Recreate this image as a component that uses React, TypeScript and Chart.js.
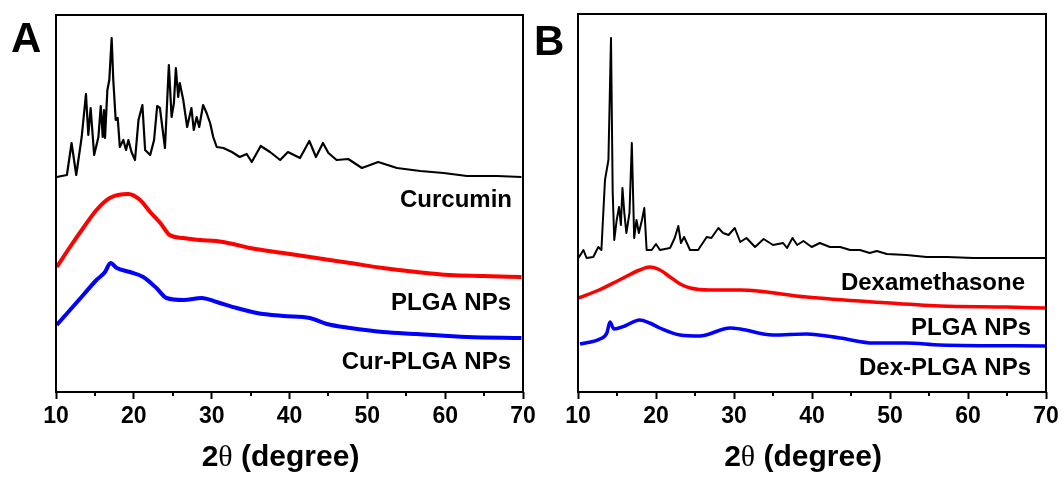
import React, { useEffect, useRef } from 'react';
import { Chart, registerables } from 'chart.js';

Chart.register(...registerables);

// ---------- Data (2θ in degrees, intensity in arbitrary units, stacked offsets) ----------
const curcuminTheta = [10.1, 11.4, 12.0, 12.6, 13.3, 13.85, 14.15, 14.45, 14.9, 15.45, 15.75, 16.0, 16.17, 16.3, 16.6, 16.85, 17.15, 17.36, 17.67, 17.93, 18.2, 18.65, 19.0, 19.3, 19.7, 20.15, 20.6, 21.1, 21.45, 22.1, 22.6, 23.0, 23.35, 24.0, 24.5, 24.85, 25.15, 25.4, 25.7, 25.9, 26.35, 26.85, 27.4, 27.7, 28.07, 28.4, 28.9, 29.35, 29.8, 30.2, 30.65, 31.5, 32.6, 33.6, 34.5, 35.15, 36.3, 37.5, 38.8, 39.8, 41.35, 42.55, 43.4, 44.3, 45.0, 46.05, 47.55, 49.3, 51.4, 53.8, 56.8, 59.8, 62.8, 66.7, 69.8];
const curcuminIntensity = [215, 217, 249, 217, 255, 298, 257, 284, 237, 255, 286, 255, 282, 254, 302, 312, 354, 312, 272, 274, 245, 252, 242, 252, 240, 232, 272, 287, 242, 237, 252, 286, 284, 244, 327, 275, 289, 324, 295, 309, 292, 265, 284, 262, 275, 265, 287, 279, 269, 255, 245, 244, 240, 235, 238, 230, 246, 240, 232, 240, 234, 251, 235, 249, 239, 232, 233, 224, 230, 224, 221, 219, 216, 216, 215];

const plgaATheta = [10.1, 11.8, 13.5, 15.2, 16.9, 19.3, 20.8, 22.1, 23.4, 24.6, 26.4, 28.5, 30.6, 32.75, 34.9, 39.2, 43.5, 47.8, 52.0, 56.35, 60.6, 64.9, 69.8];
const plgaAIntensity = [125, 145, 164, 182, 194, 198, 192, 180, 169, 157, 154, 152, 151, 148, 144, 139, 134, 129, 124, 120, 117, 116, 115];

const curPlgaTheta = [10.1, 11.8, 13.5, 15.2, 16.3, 17.0, 17.8, 19.5, 21.2, 22.9, 24.2, 26.4, 28.7, 30.65, 33.2, 35.8, 39.2, 42.6, 44.8, 47.8, 52.0, 56.35, 62.8, 69.8];
const curPlgaIntensity = [67, 82, 97, 112, 120, 129, 124, 120, 115, 104, 94, 92, 94, 90, 84, 79, 76, 74, 68, 64, 60, 58, 55, 54];

const dexTheta = [10.05, 10.7, 11.1, 11.96, 12.6, 13.0, 13.46, 13.9, 14.23, 14.45, 14.65, 14.96, 15.26, 15.5, 15.7, 15.94, 16.2, 16.6, 16.9, 17.2, 17.5, 17.8, 18.2, 18.5, 18.8, 19.45, 20.0, 20.5, 21.8, 22.4, 22.86, 23.2, 23.6, 24.36, 25.4, 26.5, 27.1, 28.0, 28.6, 29.3, 30.1, 30.8, 31.6, 32.7, 33.8, 35.0, 36.3, 36.8, 37.5, 38.1, 38.9, 39.96, 41.0, 42.3, 43.6, 44.9, 46.15, 47.4, 48.3, 49.6, 52.1, 54.7, 57.3, 60.7, 65.0, 69.9];
const dexIntensity = [134, 142, 134, 135, 145, 142, 212, 232, 354, 199, 152, 172, 185, 167, 204, 179, 159, 179, 249, 154, 172, 159, 172, 184, 142, 142, 148, 142, 144, 154, 166, 149, 155, 142, 142, 155, 154, 164, 159, 157, 164, 150, 154, 145, 153, 147, 149, 144, 154, 147, 151, 145, 149, 145, 145, 142, 142, 139, 141, 138, 137, 135, 135, 134, 134, 134];

const plgaBTheta = [10.1, 12.7, 15.3, 17.9, 19.2, 20.5, 21.8, 23.1, 24.4, 26.9, 30.8, 39.3, 47.9, 56.4, 65.0, 69.9];
const plgaBIntensity = [94, 102, 112, 122, 125, 122, 115, 108, 104, 102, 102, 95, 90, 86, 85, 84];

const dexPlgaTheta = [10.26, 12.8, 13.7, 14.1, 14.6, 16.0, 17.9, 19.2, 20.5, 23.1, 25.6, 29.5, 30.8, 35.0, 39.3, 43.6, 47.9, 52.1, 56.4, 69.9];
const dexPlgaIntensity = [48, 53, 59, 70, 63, 66, 72, 69, 64, 57, 56, 64, 63, 57, 58, 54, 49, 49, 47, 46];

const xMajorTicks = [10, 20, 30, 40, 50, 60, 70];
const xMinorTicks = [15, 25, 35, 45, 55, 65];
const panelALabels = ['Curcumin', 'PLGA NPs', 'Cur-PLGA NPs'];
const panelBLabels = ['Dexamethasone', 'PLGA NPs', 'Dex-PLGA NPs'];
const axisTitleParts = ['2', 'θ', ' (degree)'];

// ---------- Styling / layout ----------
const SANS = '"Liberation Sans", Arial, Helvetica, sans-serif';
const SERIF = '"Liberation Serif", "Times New Roman", serif';
const CANVAS_H = 481;
const PLOT_BOTTOM = 392;

type LabelPos = { right: number; baseline: number };

interface PanelProps {
  canvasLeft: number;
  canvasWidth: number;
  plotLeft: number;
  plotRight: number;
  plotTop: number;
  letter: string;
  letterX: number;
  letterBaseline: number;
  series: { theta: number[]; intensity: number[]; color: string; width: number; smooth: boolean }[];
  labels: string[];
  labelPos: LabelPos[];
}

function toPoints(theta: number[], intensity: number[]) {
  return theta.map((x, i) => ({ x, y: intensity[i] }));
}

function Panel(p: PanelProps) {
  const ref = useRef<HTMLCanvasElement | null>(null);

  useEffect(() => {
    const canvas = ref.current;
    if (!canvas) return;
    const L = p.canvasLeft;

    const decor = {
      id: 'decor',
      afterDatasetsDraw(chart: any) {
        const { ctx, chartArea: a, scales } = chart;
        const xs = scales.x;
        ctx.save();
        ctx.strokeStyle = '#000';
        ctx.lineWidth = 2;
        ctx.strokeRect(a.left, a.top, a.right - a.left, a.bottom - a.top);
        // minor ticks
        for (const v of xMinorTicks) {
          const px = Math.round(xs.getPixelForValue(v));
          ctx.beginPath();
          ctx.moveTo(px, a.bottom);
          ctx.lineTo(px, a.bottom + 4);
          ctx.stroke();
        }
        // series labels
        ctx.fillStyle = '#000';
        ctx.font = `bold 24px ${SANS}`;
        ctx.textAlign = 'right';
        ctx.textBaseline = 'alphabetic';
        p.labels.forEach((t, i) => {
          ctx.fillText(t, p.labelPos[i].right - L, p.labelPos[i].baseline);
        });
        // panel letter
        ctx.font = `bold 42px ${SANS}`;
        ctx.textAlign = 'left';
        ctx.fillText(p.letter, p.letterX - L, p.letterBaseline);
        // axis title with mixed fonts
        const fonts = [`bold 30px ${SANS}`, `30px ${SERIF}`, `bold 30px ${SANS}`];
        const widths = axisTitleParts.map((s, i) => {
          ctx.font = fonts[i];
          return ctx.measureText(s).width;
        });
        const total = widths.reduce((s, w) => s + w, 0);
        let x = (a.left + a.right) / 2 - 9 - total / 2;
        axisTitleParts.forEach((s, i) => {
          ctx.font = fonts[i];
          ctx.fillText(s, x, 466);
          x += widths[i];
        });
        ctx.restore();
      },
    };

    const chart = new Chart(canvas, {
      type: 'line',
      data: {
        datasets: p.series.map((s) => ({
          data: toPoints(s.theta, s.intensity),
          borderColor: s.color,
          borderWidth: s.width,
          pointRadius: 0,
          tension: s.smooth ? 0.4 : 0,
          cubicInterpolationMode: s.smooth ? 'monotone' : 'default',
          borderJoinStyle: 'round',
          fill: false,
        })),
      },
      options: {
        animation: false,
        responsive: false,
        maintainAspectRatio: false,
        devicePixelRatio: 1,
        layout: {
          padding: {
            left: p.plotLeft - L,
            right: L + p.canvasWidth - p.plotRight,
            top: p.plotTop,
            bottom: 0,
          },
        },
        plugins: {
          legend: { display: false },
          tooltip: { enabled: false },
          title: { display: false },
        },
        scales: {
          x: {
            type: 'linear',
            min: 10,
            max: 70,
            afterFit: (scale: any) => {
              scale.height = CANVAS_H - PLOT_BOTTOM;
            },
            afterBuildTicks: (scale: any) => {
              scale.ticks = xMajorTicks.map((v) => ({ value: v }));
            },
            ticks: {
              color: '#000',
              font: { family: SANS, size: 23, weight: 'bold' },
              padding: 4,
              maxRotation: 0,
              autoSkip: false,
              callback: (v: any) => String(v),
            },
            grid: {
              display: true,
              drawOnChartArea: false,
              drawTicks: true,
              tickLength: 7,
              tickWidth: 2,
              tickColor: '#000',
            },
            border: { display: false },
          },
          y: {
            type: 'linear',
            display: false,
            min: 0,
            max: PLOT_BOTTOM - p.plotTop,
          },
        },
      } as any,
      plugins: [decor],
    });
    return () => chart.destroy();
  }, []);

  return (
    <canvas
      ref={ref}
      width={p.canvasWidth}
      height={CANVAS_H}
      style={{ position: 'absolute', left: p.canvasLeft, top: 0, width: p.canvasWidth, height: CANVAS_H }}
    />
  );
}

export default function App() {
  return (
    <div style={{ position: 'absolute', left: 0, top: 0, width: 1064, height: 481, background: '#fff', overflow: 'hidden' }}>
      <Panel
        canvasLeft={0}
        canvasWidth={545}
        plotLeft={56}
        plotRight={523}
        plotTop={15}
        letter="A"
        letterX={11}
        letterBaseline={52}
        series={[
          { theta: curcuminTheta, intensity: curcuminIntensity, color: '#000000', width: 2.2, smooth: false },
          { theta: plgaATheta, intensity: plgaAIntensity, color: '#ff0000', width: 4, smooth: true },
          { theta: curPlgaTheta, intensity: curPlgaIntensity, color: '#0000ff', width: 4, smooth: true },
        ]}
        labels={panelALabels}
        labelPos={[
          { right: 512, baseline: 207 },
          { right: 511, baseline: 310 },
          { right: 511, baseline: 369 },
        ]}
      />
      <Panel
        canvasLeft={525}
        canvasWidth={539}
        plotLeft={578}
        plotRight={1046}
        plotTop={14}
        letter="B"
        letterX={534}
        letterBaseline={55}
        series={[
          { theta: dexTheta, intensity: dexIntensity, color: '#000000', width: 2, smooth: false },
          { theta: plgaBTheta, intensity: plgaBIntensity, color: '#ff0000', width: 3.5, smooth: true },
          { theta: dexPlgaTheta, intensity: dexPlgaIntensity, color: '#0000ff', width: 3.5, smooth: true },
        ]}
        labels={panelBLabels}
        labelPos={[
          { right: 1025, baseline: 290 },
          { right: 1031, baseline: 335 },
          { right: 1031, baseline: 375 },
        ]}
      />
    </div>
  );
}
